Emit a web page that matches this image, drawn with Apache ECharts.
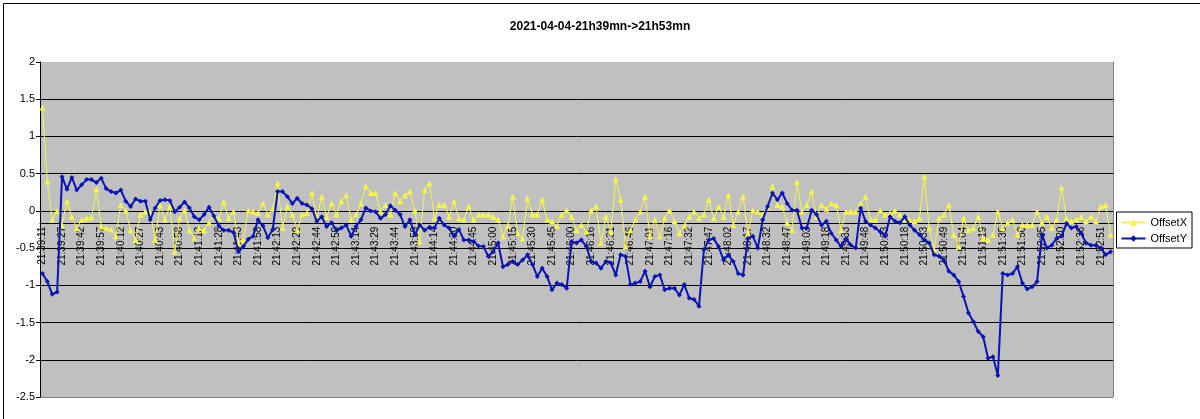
<!DOCTYPE html>
<html><head><meta charset="utf-8">
<script src="https://cdn.jsdelivr.net/npm/echarts@6/dist/echarts.min.js"></script>
<style>html,body{margin:0;padding:0;background:#fff}#c{width:1200px;height:419px}</style>
</head><body><div id="c"></div>
<script>
const titleText = '2021-04-04-21h39mn->21h53mn';
const seriesNames = ['OffsetX', 'OffsetY'];
const tickLabels = ['21:39:11','21:39:27','21:39:42','21:39:57','21:40:12','21:40:27','21:40:43','21:40:58','21:41:13','21:41:28','21:41:43','21:41:58','21:42:13','21:42:29','21:42:44','21:42:59','21:43:14','21:43:29','21:43:44','21:43:59','21:44:14','21:44:30','21:44:45','21:45:00','21:45:15','21:45:30','21:45:45','21:46:00','21:46:16','21:46:31','21:46:46','21:47:01','21:47:16','21:47:32','21:47:47','21:48:02','21:48:17','21:48:32','21:48:47','21:49:03','21:49:18','21:49:33','21:49:48','21:50:03','21:50:18','21:50:33','21:50:49','21:51:04','21:51:19','21:51:35','21:51:50','21:52:05','21:52:20','21:52:36','21:52:51'];
const yTicks = [-2.5, 2, 0.5];
const offsetX = [1.39,0.39,-0.12,0.00,-0.20,0.13,-0.08,-0.23,-0.12,-0.10,-0.09,0.29,-0.21,
-0.23,-0.25,-0.34,0.08,0.01,-0.26,-0.39,-0.05,-0.01,-0.01,-0.39,0.08,-0.12,0.06,
-0.55,-0.10,0.01,-0.26,-0.36,-0.23,-0.26,-0.16,-0.05,-0.10,0.12,-0.10,-0.01,
-0.43,-0.39,0.01,-0.01,-0.03,0.10,-0.05,0.03,0.37,-0.23,0.06,-0.05,-0.26,
-0.05,-0.03,0.24,-0.10,0.19,-0.08,0.10,-0.05,0.13,0.21,-0.12,-0.05,0.10,0.33,
0.24,0.24,-0.01,0.08,-0.05,0.24,0.13,0.21,0.26,0.01,-0.41,0.28,0.37,
-0.10,0.08,0.08,-0.08,0.13,-0.10,-0.12,0.06,-0.12,-0.05,-0.05,-0.05,-0.08,-0.12,
-0.34,-0.20,0.19,-0.30,-0.37,0.17,-0.05,-0.05,0.15,-0.12,-0.14,-0.20,-0.05,0.01,-0.08,-0.26,-0.19,-0.28,0.01,0.06,
-0.43,-0.08,-0.28,0.42,0.15,-0.48,-0.26,-0.12,-0.01,0.19,-0.34,-0.12,-0.34,-0.10,0.01,-0.14,-0.30,-0.20,-0.08,-0.01,-0.10,-0.05,
0.15,-0.10,0.06,-0.08,0.21,-0.19,-0.01,0.19,-0.30,0.01,-0.01,-0.05,0.05,0.33,0.08,0.06,-0.16,-0.26,0.39,-0.01,
0.08,0.26,-0.08,0.08,0.03,0.10,0.08,-0.26,-0.01,-0.01,-0.01,0.10,0.19,-0.12,-0.12,0.01,-0.05,-0.03,0.00,-0.05,
-0.12,-0.12,-0.14,-0.10,0.46,-0.23,-0.52,-0.10,-0.05,0.08,-0.32,-0.48,-0.10,-0.26,-0.23,-0.08,-0.37,-0.39,-0.32,-0.01,-0.23,-0.16,
-0.12,-0.32,-0.19,-0.19,-0.19,-0.01,-0.16,-0.08,-0.23,-0.12,0.31,-0.10,-0.14,-0.12,-0.08,-0.14,-0.08,-0.14,0.06,0.08,-0.32];
const offsetY = [-0.84,-0.95,-1.12,-1.09,
0.46,0.29,0.45,0.28,0.35,0.42,0.42,0.38,0.44,
0.30,0.26,0.24,0.28,0.13,0.06,0.16,0.13,0.13,
-0.12,0.04,0.14,0.15,0.14,-0.01,0.05,0.12,0.04,
-0.08,-0.12,-0.05,0.05,-0.07,-0.20,-0.26,-0.26,-0.29,
-0.55,-0.48,-0.38,-0.34,-0.12,-0.20,-0.36,-0.25,
0.26,0.26,0.19,0.10,0.17,
0.10,0.08,0.03,-0.14,-0.08,-0.21,-0.16,-0.26,
-0.23,-0.19,-0.34,-0.21,-0.12,0.04,0.00,-0.01,-0.10,-0.05,
0.07,0.01,-0.05,-0.21,-0.12,-0.32,-0.19,-0.26,-0.22,-0.23,
-0.10,-0.19,-0.23,-0.34,-0.25,-0.39,-0.39,-0.41,-0.47,-0.48,
-0.61,-0.55,-0.43,-0.75,-0.72,-0.68,-0.72,-0.66,-0.59,-0.72,
-0.88,-0.77,-0.88,-1.06,-0.97,-0.99,-1.04,
-0.41,-0.43,-0.39,-0.48,-0.68,-0.70,
-0.77,-0.68,-0.70,-0.86,-0.59,-0.61,-0.99,-0.97,-0.95,
-0.81,-1.02,-0.88,-0.86,-1.06,-1.04,-1.04,-1.13,-0.99,-1.17,-1.19,-1.28,
-0.52,-0.39,-0.37,-0.48,-0.66,-0.59,-0.68,-0.84,-0.86,-0.37,-0.34,-0.50,
-0.12,0.06,0.24,0.15,0.24,0.10,0.01,0.01,-0.23,-0.23,
0.01,-0.05,-0.19,-0.14,-0.30,-0.39,-0.48,-0.37,-0.46,-0.50,
0.04,-0.14,-0.19,-0.23,-0.28,-0.34,-0.08,-0.14,-0.16,
-0.08,-0.19,-0.26,-0.32,-0.39,-0.43,-0.59,-0.61,-0.66,-0.81,-0.86,-0.95,
-1.15,-1.37,-1.49,-1.62,-1.69,-1.98,-1.96,-2.21,
-0.84,-0.86,-0.84,-0.75,-0.97,-1.05,-1.02,-0.95,
-0.32,-0.50,-0.46,-0.37,-0.34,-0.17,-0.23,-0.21,-0.30,-0.43,-0.46,-0.46,-0.50,-0.59,-0.55];

const PER = 4;
const categories = offsetY.map((_, i) => tickLabels[Math.floor(i / PER)] + (i % PER ? '#' + (i % PER) : ''));
const FONT = 'Liberation Sans, Arial, sans-serif';
const chart = echarts.init(document.getElementById('c'), null, {renderer: 'canvas'});
const gridLines = ['#808080'].concat(new Array(8).fill('#000000'));
chart.setOption({
  animation: false,
  backgroundColor: '#ffffff',
  textStyle: {fontFamily: FONT},
  title: {text: titleText, left: 'center', top: 16, textStyle: {fontSize: 12, fontWeight: 'bold', color: '#000', fontFamily: FONT}},
  grid: {left: 40, right: 87, top: 62, bottom: 22, show: true, backgroundColor: '#C0C0C0', borderWidth: 0},
  legend: {
    orient: 'vertical', right: 8, top: 212, itemWidth: 24, itemHeight: 8, itemGap: 5,
    padding: [5, 5, 4, 4], borderColor: '#000', borderWidth: 1, backgroundColor: '#fff',
    textStyle: {fontSize: 11, color: '#000', fontFamily: FONT},
    data: seriesNames
  },
  xAxis: {
    type: 'category', data: categories, boundaryGap: true, position: 'bottom', offset: 0,
    axisLine: {onZero: false, lineStyle: {color: '#000', width: 1}},
    axisTick: {interval: 0, length: 3, lineStyle: {color: '#000'}},
    axisLabel: {interval: PER - 1, rotate: 90, margin: 3, fontSize: 10, color: '#000', fontFamily: FONT,
      formatter: v => v.split('#')[0]},
    splitLine: {show: false}
  },
  yAxis: [{
    type: 'value', min: yTicks[0], max: yTicks[1], interval: yTicks[2],
    axisLine: {show: true, onZero: false, lineStyle: {color: '#000'}},
    axisTick: {show: true, length: 4, lineStyle: {color: '#000'}},
    axisLabel: {fontSize: 11, color: '#000', margin: 5, fontFamily: FONT},
    splitLine: {show: true, showMaxLine: false, lineStyle: {color: gridLines, width: 1}}
  }, {
    type: 'value', min: yTicks[0], max: yTicks[1], interval: yTicks[2], position: 'right',
    axisLine: {show: true, onZero: false, lineStyle: {color: '#808080'}},
    axisTick: {show: false}, axisLabel: {show: false}, splitLine: {show: false}
  }],
  series: [{
    name: seriesNames[0], type: 'line', data: offsetX,
    symbol: 'triangle', symbolSize: 6, showAllSymbol: true,
    lineStyle: {color: '#F5F54A', width: 1}, itemStyle: {color: '#F5F54A'}, z: 2
  }, {
    name: seriesNames[1], type: 'line', data: offsetY,
    symbol: 'diamond', symbolSize: 5, showAllSymbol: true,
    lineStyle: {color: '#0A14B4', width: 2}, itemStyle: {color: '#0A14B4'}, z: 3
  }],
  graphic: [{type: 'rect', left: 1, top: 1, shape: {x: 0, y: 0, width: 1197, height: 416}, style: {fill: 'none', stroke: '#000', lineWidth: 1}, silent: true}]
});
// Place the category axis on the zero line, using the value axis scale.
const zeroPx = chart.convertToPixel({yAxisIndex: 0}, 0);
const minPx = chart.convertToPixel({yAxisIndex: 0}, yTicks[0]);
chart.setOption({xAxis: {offset: zeroPx - minPx}});
</script></body></html>
